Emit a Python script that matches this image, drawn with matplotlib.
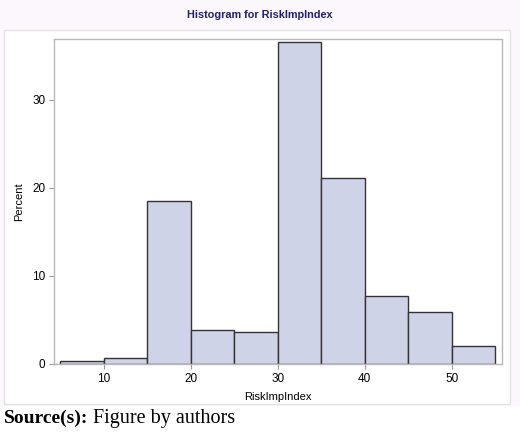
import numpy as np
import matplotlib.pyplot as plt
from matplotlib.patches import Rectangle

# histogram bins (width 5) and percent per bin
bin_edges = [5, 10, 15, 20, 25, 30, 35, 40, 45, 50, 55]
percent = [0.35, 0.65, 18.5, 3.9, 3.6, 36.6, 21.1, 7.7, 5.9, 2.1]
x_ticks = [10, 20, 30, 40, 50]
y_ticks = [0, 10, 20, 30]

plt.rcParams['font.family'] = ['Liberation Sans', 'DejaVu Sans']

W, H = 520, 432
fig = plt.figure(figsize=(W / 100, H / 100), dpi=100)
fig.patch.set_facecolor('white')


def fx(px):
    return px / W


def fy(py):
    return 1 - py / H


# light outer background and white panel like the SAS output
fig.patches.append(Rectangle((0, fy(406)), 1, fy(0) - fy(406), transform=fig.transFigure,
                             facecolor='#fcf7fc', edgecolor='none', zorder=-2))
fig.patches.append(Rectangle((fx(4), fy(404)), fx(510) - fx(4), fy(30) - fy(404),
                             transform=fig.transFigure, facecolor='white',
                             edgecolor='#e2e2e2', linewidth=1, zorder=-1))

ax = fig.add_axes([fx(54.3), fy(364), fx(501.5) - fx(54.3), fy(39) - fy(364)])
ax.set_facecolor('white')

edges = np.array(bin_edges)
ax.bar(edges[:-1], percent, width=np.diff(edges), align='edge',
       color='#cfd3e8', edgecolor='#333333', linewidth=1.0)

ax.set_xlim(4.35, 55.7)
ax.set_ylim(0, 36.9)
ax.set_xticks(x_ticks)
ax.set_yticks(y_ticks)
ax.tick_params(labelsize=8.5, length=3.5, color='#999999', pad=3)
for s in ax.spines.values():
    s.set_color('#b8b8b8')
    s.set_linewidth(1)

ax.set_xlabel('RiskImpIndex', fontsize=8, labelpad=5)
ax.set_ylabel('Percent', fontsize=8, labelpad=6)

fig.text(0.5, fy(15), 'Histogram for RiskImpIndex', ha='center', va='center',
         fontsize=7.8, fontweight='bold', color='#1f1f6e')

fig.text(fx(4), fy(418), 'Source(s):', ha='left', va='center', fontsize=14,
         fontweight='bold', family='Liberation Serif')
fig.text(fx(93), fy(418), 'Figure by authors', ha='left', va='center', fontsize=14.5,
         family='Liberation Serif')

fig.savefig('out.png', dpi=100)
